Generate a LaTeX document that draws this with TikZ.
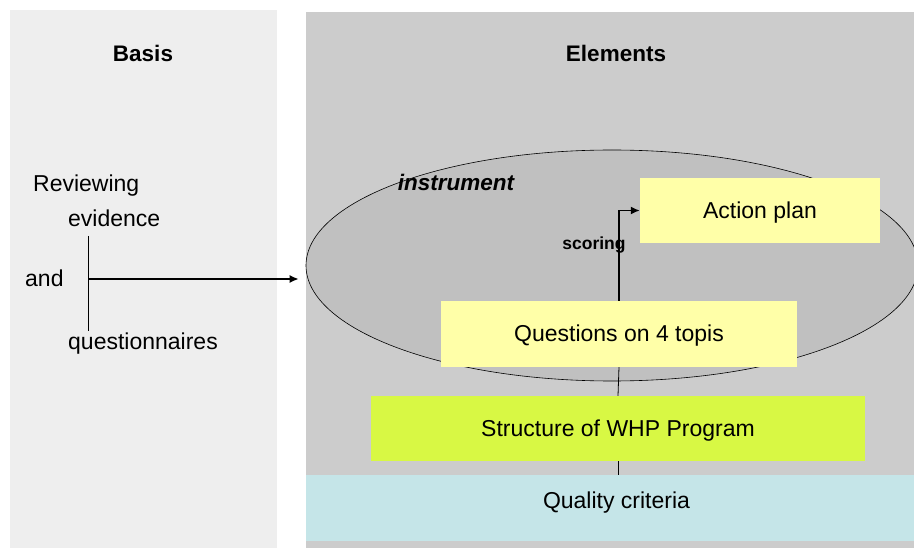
\documentclass[tikz,border=0pt]{standalone}
\usepackage{fontspec}
\setmainfont{Liberation Sans}
\usetikzlibrary{shapes.geometric,arrows.meta}
\definecolor{basisbg}{HTML}{EEEEEE}
\definecolor{elembg}{HTML}{CCCCCC}
\definecolor{instrfill}{HTML}{C0C0C0}
\definecolor{paleyellow}{HTML}{FFFFA8}
\definecolor{limegreen}{HTML}{D8F844}
\definecolor{palecyan}{HTML}{C5E5E8}
\begin{document}
\begin{tikzpicture}[x=1pt,y=-1pt,
  txt/.style={inner sep=0pt, font=\fontsize{23}{27}\selectfont},
  box/.style={inner sep=0pt, text height=16pt, text depth=0pt, font=\fontsize{23}{27}\selectfont},
  link/.style={line width=1.6pt, -{Latex[length=9pt,width=8pt]}}]
\useasboundingbox (0,0) rectangle (914,548);
% panels
\fill[basisbg] (10,10) rectangle (277,548);
\fill[elembg] (306,12) rectangle (914,548);
\node[txt, font=\fontsize{22.5}{27}\selectfont\bfseries] (basis) at (143,53){Basis};
\node[txt, font=\fontsize{22.5}{27}\selectfont\bfseries] (elements) at (616,53){Elements};
% instrument
\node[ellipse, draw, line width=0.6pt, fill=instrfill, minimum width=612, minimum height=231] (instr) at (612,265.5){};
\node[txt, font=\fontsize{22.5}{27}\selectfont\bfseries\itshape] (instrlabel) at (456,182){instrument};
\node[box, text depth=16pt, fill=palecyan, minimum width=621, minimum height=66] (quality) at (616.5,508){Quality criteria};
\node[box, fill=limegreen, minimum width=494, minimum height=65] (structure) at (618,428.5){Structure of WHP Program};
\node[box, fill=paleyellow, minimum width=356, minimum height=66] (questions) at (619,334){Questions on 4 topis};
\node[box, fill=paleyellow, minimum width=240, minimum height=65] (action) at (760,210.5){Action plan};
\draw[line width=0.8pt] (questions.south) -- (structure.north);
\draw[line width=0.8pt] (structure.south) -- (structure.south |- quality.north);
\draw[link] (questions.north) |- (action.west);
\node[txt, font=\fontsize{17.5}{21}\selectfont\bfseries] (scoring) at (594,245.5){scoring};
% basis
\node[txt, anchor=base west] (reviewing) at (33,191.5){Reviewing};
\node[txt, anchor=base west] (evidence) at (68,226.5){evidence};
\node[txt, anchor=base west] (and) at (25,287){and};
\node[txt, anchor=base west] (questionnaires) at (68,350){questionnaires};
\coordinate (jtop) at (88,236);
\coordinate (jbot) at (88,331);
\coordinate (jmid) at (88,279);
\draw[line width=0.8pt] (jtop) -- (jbot);
\draw[link, shorten >=7pt] (jmid) -- (jmid -| instr.west);
\end{tikzpicture}
\end{document}
